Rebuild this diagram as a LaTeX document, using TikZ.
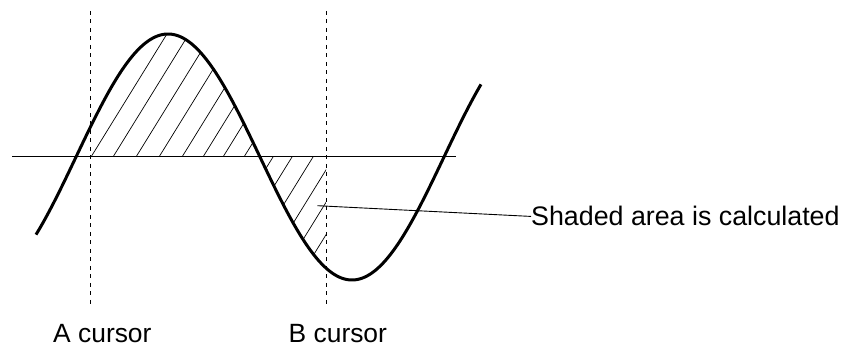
\documentclass[tikz,border=0pt]{standalone}
\usepackage{fontspec}
\setmainfont{Liberation Sans}
\begin{document}
\begin{tikzpicture}[x=1pt,y=-1pt,
  curve/.style={line width=3pt, line join=round},
  axisline/.style={line width=1pt},
  cursorline/.style={line width=0.9pt, dash pattern=on 4pt off 4.5pt},
  hatchline/.style={line width=0.7pt},
  leader/.style={line width=0.9pt},
  lab/.style={font=\fontsize{26.4}{30}\selectfont, inner sep=0pt},
  biglab/.style={font=\fontsize{26.8}{30}\selectfont, inner sep=0pt}]
\useasboundingbox (0,0) rectangle (855,347);
% hatching
\begin{scope}
  \clip (90,157) -- plot[domain=90:326,samples=150] ({\x},{157-123*sin((\x-76)/184*180)}) -- (326,157) -- cycle;
  \foreach \a in {91,113,136,159,182,203,223,244,273,292,313,334,354,374}
    \draw[hatchline] ({\a-130},{157+130*1.62}) -- ({\a+130},{157-130*1.62});
\end{scope}
% axis
\coordinate (axl) at (12,157);
\coordinate (axr) at (456,157);
\draw[axisline] (axl) -- (axr);
% cursors
\coordinate (Atop) at (90,11);
\coordinate (Abot) at (90,304);
\coordinate (Btop) at (326,11);
\coordinate (Bbot) at (326,304);
\draw[cursorline] (Atop) -- (Abot);
\draw[cursorline] (Btop) -- (Bbot);
% curve
\draw[curve] plot[domain=36:481,samples=300] ({\x},{157-123*sin((\x-76)/184*180)});
% labels
\node[lab, anchor=base west] (alab) at (53,342.5) {A cursor};
\node[lab, anchor=base west] (blab) at (288.5,342.5) {B cursor};
\node[biglab, anchor=base west] (shaded) at (531,226) {Shaded area is calculated};
\coordinate (lead) at (317.5,205.7);
\draw[leader] (lead) -- (shaded.west);
\end{tikzpicture}
\end{document}
